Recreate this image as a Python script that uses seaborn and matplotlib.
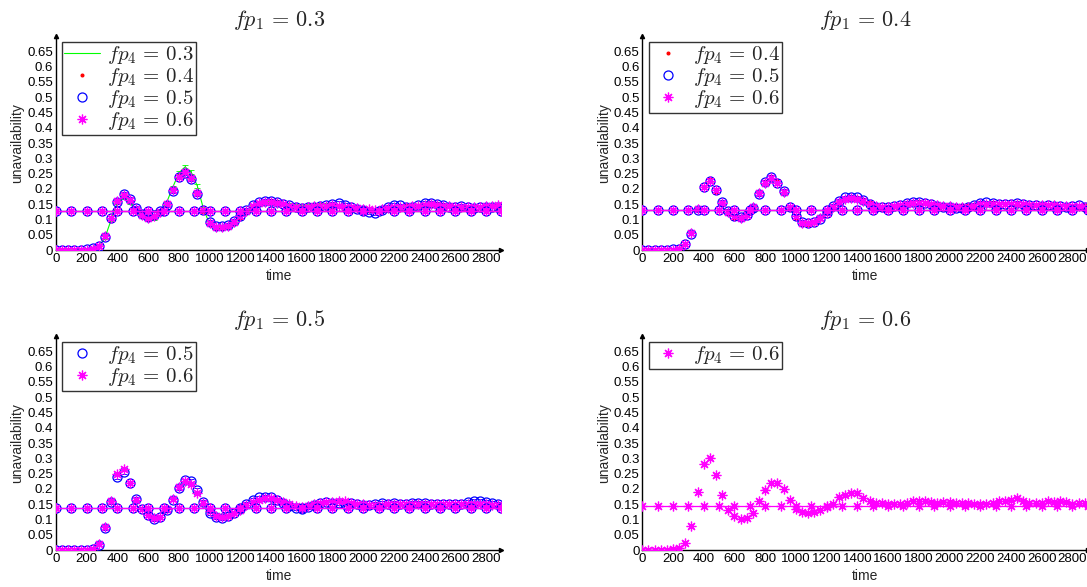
import numpy as np
import matplotlib
matplotlib.use("Agg")
import matplotlib.pyplot as plt
import seaborn as sns

#-----------data---------------------------------------
times = np.arange(0, 2900, 40)          # sample instants
ss_times = np.arange(0, 3000, 100)      # markers on the steady-state line

# fp1 = 0.3
p1_fp03 = [0, 0, 0, 0, 0, 0.001, 0.004, 0.011, 0.042, 0.1,
           0.155, 0.172, 0.155, 0.13, 0.11, 0.1, 0.105, 0.122, 0.155, 0.205,
           0.252, 0.272, 0.255, 0.21, 0.135, 0.085, 0.07, 0.07, 0.075, 0.088,
           0.105, 0.125, 0.14, 0.152, 0.158, 0.16, 0.157, 0.152, 0.147, 0.143,
           0.142, 0.144, 0.147, 0.148, 0.147, 0.146, 0.145, 0.142, 0.14, 0.138,
           0.136, 0.134, 0.133, 0.135, 0.137, 0.14, 0.141, 0.142, 0.143, 0.145,
           0.147, 0.148, 0.147, 0.145, 0.143, 0.141, 0.14, 0.14, 0.141, 0.141,
           0.142, 0.143, 0.143]
p1_fp04 = [0, 0, 0, 0, 0, 0.001, 0.005, 0.013, 0.046, 0.104,
           0.162, 0.178, 0.163, 0.133, 0.112, 0.1, 0.108, 0.124, 0.152, 0.197,
           0.242, 0.258, 0.238, 0.188, 0.128, 0.088, 0.072, 0.073, 0.079, 0.092,
           0.108, 0.125, 0.14, 0.152, 0.158, 0.16, 0.156, 0.15, 0.144, 0.14,
           0.138, 0.14, 0.144, 0.146, 0.146, 0.145, 0.144, 0.142, 0.139, 0.136,
           0.134, 0.132, 0.13, 0.133, 0.137, 0.14, 0.142, 0.143, 0.144, 0.146,
           0.149, 0.15, 0.149, 0.146, 0.143, 0.141, 0.14, 0.139, 0.14, 0.141,
           0.142, 0.144, 0.145]
p1_fp05 = [0, 0, 0, 0, 0, 0.002, 0.005, 0.013, 0.044, 0.106,
           0.158, 0.183, 0.167, 0.137, 0.118, 0.108, 0.113, 0.127, 0.148, 0.193,
           0.238, 0.253, 0.232, 0.183, 0.132, 0.092, 0.077, 0.077, 0.082, 0.095,
           0.112, 0.13, 0.146, 0.156, 0.162, 0.162, 0.158, 0.152, 0.146, 0.141,
           0.138, 0.14, 0.142, 0.144, 0.146, 0.152, 0.155, 0.148, 0.14, 0.135,
           0.13, 0.124, 0.12, 0.13, 0.14, 0.148, 0.146, 0.142, 0.14, 0.146,
           0.153, 0.155, 0.152, 0.147, 0.142, 0.14, 0.143, 0.141, 0.138, 0.14,
           0.14, 0.142, 0.14]
p1_fp06 = [0, 0, 0, 0, 0, 0.001, 0.004, 0.012, 0.045, 0.105,
           0.16, 0.18, 0.165, 0.135, 0.115, 0.105, 0.11, 0.125, 0.15, 0.195,
           0.24, 0.255, 0.235, 0.185, 0.13, 0.09, 0.075, 0.075, 0.08, 0.093,
           0.11, 0.128, 0.143, 0.153, 0.158, 0.158, 0.155, 0.15, 0.145, 0.14,
           0.138, 0.14, 0.143, 0.145, 0.145, 0.146, 0.145, 0.142, 0.14, 0.137,
           0.135, 0.133, 0.132, 0.135, 0.138, 0.14, 0.142, 0.142, 0.143, 0.145,
           0.148, 0.15, 0.148, 0.145, 0.143, 0.14, 0.14, 0.14, 0.14, 0.142,
           0.143, 0.145, 0.147]

# fp1 = 0.4
p2_fp04 = [0, 0, 0, 0, 0, 0.001, 0.005, 0.02, 0.056, 0.135,
           0.207, 0.228, 0.19, 0.15, 0.12, 0.105, 0.103, 0.113, 0.142, 0.187,
           0.222, 0.24, 0.225, 0.19, 0.138, 0.105, 0.085, 0.085, 0.09, 0.103,
           0.12, 0.14, 0.156, 0.166, 0.17, 0.169, 0.163, 0.154, 0.145, 0.141,
           0.141, 0.144, 0.147, 0.151, 0.154, 0.156, 0.154, 0.151, 0.148, 0.146,
           0.144, 0.143, 0.143, 0.143, 0.146, 0.15, 0.152, 0.153, 0.151, 0.15,
           0.151, 0.152, 0.15, 0.149, 0.147, 0.146, 0.146, 0.145, 0.145, 0.144,
           0.144, 0.143, 0.143]
p2_fp05 = [0, 0, 0, 0, 0, 0.002, 0.004, 0.019, 0.054, 0.132,
           0.206, 0.226, 0.196, 0.157, 0.127, 0.112, 0.107, 0.113, 0.138, 0.184,
           0.224, 0.238, 0.218, 0.192, 0.142, 0.112, 0.093, 0.09, 0.092, 0.103,
           0.12, 0.145, 0.162, 0.172, 0.175, 0.172, 0.163, 0.15, 0.142, 0.14,
           0.14, 0.144, 0.148, 0.153, 0.158, 0.157, 0.154, 0.15, 0.145, 0.142,
           0.14, 0.137, 0.136, 0.14, 0.148, 0.155, 0.156, 0.154, 0.15, 0.149,
           0.151, 0.153, 0.151, 0.148, 0.146, 0.145, 0.146, 0.145, 0.143, 0.142,
           0.145, 0.146, 0.142]
p2_fp06 = [0, 0, 0, 0, 0, 0.001, 0.004, 0.02, 0.055, 0.133,
           0.205, 0.225, 0.195, 0.155, 0.125, 0.11, 0.105, 0.115, 0.14, 0.185,
           0.22, 0.235, 0.22, 0.19, 0.14, 0.11, 0.09, 0.088, 0.093, 0.105,
           0.122, 0.142, 0.158, 0.168, 0.17, 0.168, 0.162, 0.152, 0.144, 0.14,
           0.14, 0.143, 0.146, 0.15, 0.153, 0.155, 0.153, 0.15, 0.147, 0.145,
           0.143, 0.142, 0.142, 0.142, 0.145, 0.149, 0.152, 0.152, 0.15, 0.149,
           0.15, 0.151, 0.15, 0.148, 0.147, 0.146, 0.146, 0.146, 0.145, 0.144,
           0.143, 0.143, 0.142]

# fp1 = 0.5
p3_fp05 = [0, 0, 0, 0, 0, 0.001, 0.004, 0.018, 0.073, 0.158,
           0.24, 0.255, 0.22, 0.168, 0.133, 0.115, 0.1, 0.107, 0.13, 0.165,
           0.203, 0.228, 0.225, 0.197, 0.157, 0.122, 0.108, 0.105, 0.11, 0.122,
           0.133, 0.152, 0.163, 0.172, 0.175, 0.172, 0.165, 0.155, 0.145, 0.138,
           0.135, 0.14, 0.148, 0.155, 0.157, 0.155, 0.153, 0.152, 0.153, 0.15,
           0.148, 0.148, 0.152, 0.153, 0.152, 0.153, 0.152, 0.152, 0.153, 0.153,
           0.153, 0.152, 0.152, 0.15, 0.15, 0.152, 0.152, 0.158, 0.162, 0.162,
           0.158, 0.153, 0.15]
p3_fp06 = [0, 0, 0, 0, 0, 0.001, 0.004, 0.02, 0.075, 0.162,
           0.25, 0.265, 0.218, 0.165, 0.133, 0.113, 0.105, 0.108, 0.135, 0.168,
           0.205, 0.225, 0.215, 0.185, 0.155, 0.127, 0.112, 0.108, 0.112, 0.12,
           0.132, 0.148, 0.158, 0.165, 0.17, 0.17, 0.165, 0.157, 0.15, 0.145,
           0.142, 0.145, 0.15, 0.153, 0.157, 0.158, 0.16, 0.16, 0.155, 0.152,
           0.15, 0.148, 0.148, 0.148, 0.15, 0.15, 0.15, 0.151, 0.151, 0.15,
           0.15, 0.15, 0.15, 0.151, 0.152, 0.151, 0.15, 0.15, 0.15, 0.15,
           0.151, 0.148, 0.147]

# fp1 = 0.6
p4_fp06 = [0, 0, 0, 0, 0, 0.002, 0.005, 0.022, 0.078, 0.19,
           0.28, 0.3, 0.245, 0.18, 0.13, 0.11, 0.1, 0.105, 0.122, 0.16,
           0.195, 0.22, 0.22, 0.2, 0.165, 0.135, 0.125, 0.122, 0.123, 0.13,
           0.14, 0.152, 0.172, 0.18, 0.185, 0.186, 0.17, 0.16, 0.155, 0.154,
           0.15, 0.15, 0.15, 0.155, 0.16, 0.161, 0.16, 0.156, 0.155, 0.156,
           0.156, 0.155, 0.155, 0.154, 0.152, 0.15, 0.15, 0.155, 0.16, 0.16,
           0.165, 0.17, 0.16, 0.155, 0.155, 0.155, 0.16, 0.156, 0.16, 0.156,
           0.15, 0.153, 0.155]

# steady-state unavailability per panel
steady = [0.129, 0.132, 0.137, 0.143]
err_half = 0.006

fp1_values = ['0.3', '0.4', '0.5', '0.6']
panels = [
    {'0.3': p1_fp03, '0.4': p1_fp04, '0.5': p1_fp05, '0.6': p1_fp06},
    {'0.4': p2_fp04, '0.5': p2_fp05, '0.6': p2_fp06},
    {'0.5': p3_fp05, '0.6': p3_fp06},
    {'0.6': p4_fp06},
]

xtick_vals = np.arange(0, 3000, 200)
ytick_vals = np.arange(0, 0.66, 0.05)
ytick_labels = ['0', '0.05', '0.1', '0.15', '0.2', '0.25', '0.3', '0.35',
                '0.4', '0.45', '0.5', '0.55', '0.6', '0.65']

#-----------styles-------------------
style = {
    '0.3': dict(color=(0, 1, 0), marker=None, ms=0),
    '0.4': dict(color=(1, 0, 0), marker='.', ms=4),
    '0.5': dict(color=(0, 0, 1), marker='o', ms=6.5),
    '0.6': dict(color=(1, 0, 1), marker=(8, 2, 0), ms=7),
}

sns.set_style("white")
plt.rcParams['font.family'] = ['Liberation Sans', 'DejaVu Sans']
plt.rcParams['mathtext.fontset'] = 'cm'

fig = plt.figure(figsize=(10.87, 5.87), dpi=100)
positions = [
    [0.0515, 0.5741, 0.4098, 0.3644],
    [0.5909, 0.5741, 0.4098, 0.3644],
    [0.0515, 0.0630, 0.4098, 0.3644],
    [0.5909, 0.0630, 0.4098, 0.3644],
]

for i, series in enumerate(panels):
    ax = fig.add_axes(positions[i])
    for key, vals in series.items():
        st = style[key]
        ax.errorbar(times, vals, yerr=err_half, fmt='none', ecolor=st['color'],
                    elinewidth=0.6, capsize=2.5, capthick=0.6, zorder=2)
        lab = '$fp_4\\,=\\,' + key + '$'
        if st['marker'] is None:
            sns.lineplot(x=times, y=vals, ax=ax, color=st['color'], linewidth=0.8,
                         label=lab, zorder=3)
        else:
            sns.lineplot(x=times, y=vals, ax=ax, color=st['color'], linestyle='',
                         marker=st['marker'], markersize=st['ms'],
                         markerfacecolor='none' if key == '0.5' else st['color'],
                         markeredgecolor=st['color'], markeredgewidth=0.9,
                         label=lab, zorder=3)
    # steady-state reference lines
    for key in series:
        st = style[key]
        if st['marker'] is None:
            continue
        sns.lineplot(x=ss_times, y=[steady[i]] * len(ss_times), ax=ax,
                     color=st['color'], linewidth=0.9, marker=st['marker'],
                     markersize=st['ms'],
                     markerfacecolor='none' if key == '0.5' else st['color'],
                     markeredgecolor=st['color'], markeredgewidth=0.9,
                     legend=False, zorder=3)

    ax.set_xlim(0, 2900)
    ax.set_ylim(0, 0.7)
    ax.set_xticks(xtick_vals)
    ax.set_yticks(ytick_vals)
    ax.set_yticklabels(ytick_labels)
    ax.tick_params(direction='in', length=3, width=0.6, color='#777777',
                   labelsize=9.5, labelcolor='black', pad=2)
    sns.despine(ax=ax)
    for sp in ['left', 'bottom']:
        ax.spines[sp].set_color('black')
        ax.spines[sp].set_linewidth(1.0)
    # little arrow heads at the axis ends
    ax.plot(1, 0, '>k', markersize=3, transform=ax.transAxes, clip_on=False)
    ax.plot(0, 1, '^k', markersize=3, transform=ax.transAxes, clip_on=False)

    ax.set_xlabel('time', fontsize=10, labelpad=3)
    ax.set_ylabel('unavailability', fontsize=10, labelpad=2)
    ax.set_title('$fp_1\\,=\\,' + fp1_values[i] + '$', fontsize=16, pad=7)

    leg = ax.legend(loc='upper left', fontsize=15, frameon=True, fancybox=False,
                    edgecolor='black', borderaxespad=0.3, borderpad=0.1,
                    labelspacing=0.0, handlelength=1.7, handletextpad=0.35)
    leg.get_frame().set_linewidth(1.0)

plt.savefig('out.png', dpi=100)
